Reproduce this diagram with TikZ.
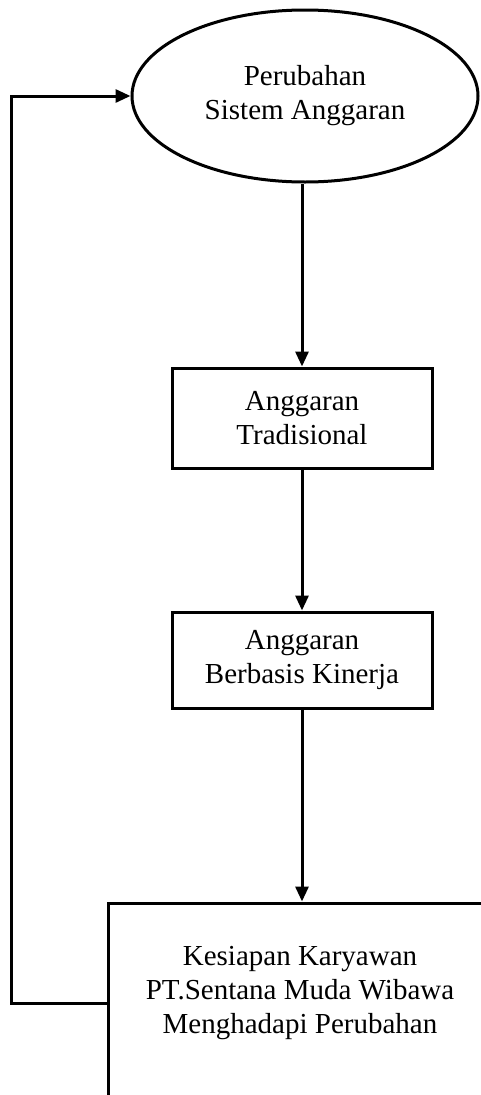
\documentclass[tikz,border=0pt]{standalone}
\usepackage{fontspec}
\setmainfont{Liberation Serif}
\usetikzlibrary{arrows.meta,shapes.geometric}
\begin{document}
\begin{tikzpicture}[x=1pt,y=-1pt,
  line width=3pt,
  txt/.style={font=\fontsize{29}{34}\selectfont, align=center, inner sep=2pt},
  boxnode/.style={txt, draw, rectangle, minimum width=260pt},
  ellnode/.style={txt, draw, ellipse, minimum width=346pt, minimum height=172pt},
  arr/.style={-{Triangle[length=15pt,width=13pt]}, line width=3pt}
]
\useasboundingbox (0,0) rectangle (481,1095);
\clip (0,0) rectangle (481,1095);
\node[ellnode] (ell) at (305,96) {Perubahan\\Sistem Anggaran};
\node[boxnode, minimum height=100pt] (b1) at (302,418) {Anggaran\\Tradisional};
\node[boxnode, minimum height=96pt] (b2) at (302,660) {Anggaran\\Berbasis Kinerja};
\node[draw, rectangle, minimum width=384pt, minimum height=200pt, inner sep=0pt] (kbox) at (300,1003) {};
\node[txt] (ktext) at (300,993) {Kesiapan Karyawan\\PT.Sentana Muda Wibawa\\Menghadapi Perubahan};
\draw[arr] (b1.north |- ell.south) -- (b1.north);
\draw[arr] (b1.south) -- (b2.north);
\draw[arr] (b2.south) -- (b2.south |- kbox.north);
\draw[arr] (kbox.west) -- ++(-95,0) |- (ell.west);
\end{tikzpicture}
\end{document}
